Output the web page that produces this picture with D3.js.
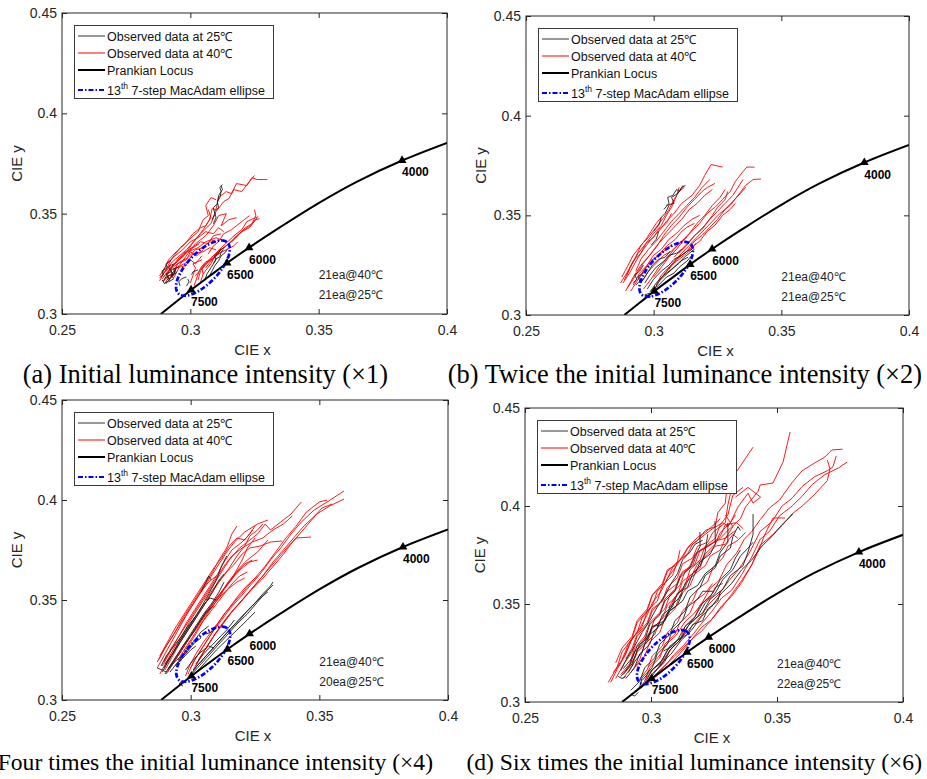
<!DOCTYPE html>
<html><head><meta charset="utf-8">
<script src="https://cdn.jsdelivr.net/npm/d3@7"></script>
<style>body{margin:0;background:#fff}svg{display:block}</style>
</head><body><svg id="fig" width="927" height="779"></svg>
<script>
// Axis ticks shared by all four panels
const xTicks = [0.25, 0.3, 0.35, 0.4];
const xTickLabels = ["0.25", "0.3", "0.35", "0.4"];
const yTicks = [0.3, 0.35, 0.4, 0.45];
const yTickLabels = ["0.3", "0.35", "0.4", "0.45"];
const xDomain = [0.25, 0.4], yDomain = [0.3, 0.45];

// Planckian locus (CIE 1931 x, y)
const locusX = [0.2885, 0.2945, 0.3003, 0.3075, 0.3143, 0.3229, 0.3350, 0.3500, 0.3650, 0.3825, 0.4000];
const locusY = [0.3000, 0.3061, 0.3120, 0.3189, 0.3254, 0.3331, 0.3433, 0.3553, 0.3660, 0.3765, 0.3853];
// CCT marks on the locus
const cctLabels = ["7500", "6500", "6000", "4000"];
const cctX = [0.3003, 0.3143, 0.3229, 0.3825];
const cctY = [0.3120, 0.3254, 0.3331, 0.3765];

// 7-step MacAdam ellipse: centre, semi-axes and tilt
const ellipseCenter = [0.3049, 0.3229];
const ellipseSemiAxes = [0.0160, 0.0066];
const ellipseTiltDeg = 56;

const legendLabels = ["Observed data at 25\u2103", "Observed data at 40\u2103", "Prankian Locus", "13|th| 7-step MacAdam ellipse"];
const captions = [
  "(a) Initial luminance intensity (\u00d71)",
  "(b) Twice the initial luminance intensity (\u00d72)",
  "(c) Four times the initial luminance intensity (\u00d74)",
  "(d) Six times the initial luminance intensity (\u00d76)"
];
const sampleCounts = [
  ["21ea@40\u2103", "21ea@25\u2103"],
  ["21ea@40\u2103", "21ea@25\u2103"],
  ["21ea@40\u2103", "20ea@25\u2103"],
  ["21ea@40\u2103", "22ea@25\u2103"]
];

// Observed chromaticity trajectories, each as x,y,x,y,...
const obs25A = [
 [.309,.345,.31,.348,.3095,.351,.311,.353,.3105,.356,.3115,.358,.312,.361,.3115,.363,.3125,.3645],
 [.3085,.347,.3095,.35,.309,.353,.3105,.355,.311,.359,.3125,.362,.312,.364],
 [.289,.317,.29,.315,.2915,.318,.2905,.32,.2925,.321,.2915,.3235,.2935,.325],
 [.2905,.3155,.292,.317,.291,.319,.293,.3195,.2925,.322,.2945,.323],
 [.288,.318,.2895,.3195,.289,.3215,.291,.323,.2905,.325,.2925,.327],
 [.2915,.316,.2935,.3175,.2925,.3195,.2945,.3205,.294,.3225],
 [.3055,.3165,.3065,.32,.308,.323,.309,.325,.31,.3275,.3115,.3285,.312,.331,.313,.332],
 [.307,.318,.3085,.3215,.3095,.324,.311,.3265,.312,.329,.3135,.3305,.3145,.3325],
 [.309,.325,.31,.327,.3095,.329,.311,.33,.3115,.332,.313,.333],
 [.296,.314,.2955,.316,.2965,.3175,.2985,.3185],
 [.3005,.3195,.301,.321,.303,.322],
 [.2985,.314,.2995,.316,.299,.3175],
 [.2895,.3165,.2905,.3185,.292,.3175,.2935,.3195,.2925,.3215],
 [.2925,.3185,.294,.32,.2935,.3225,.2955,.3235]
];
const obs40A = [
 [.289,.3175,.2935,.3245,.2975,.329,.301,.3355,.305,.342,.3075,.347,.3085,.3525,.31,.352,.311,.358,.314,.361,.316,.36,.318,.365,.322,.364,.324,.368,.326,.367,.33,.367],
 [.2885,.3185,.293,.326,.2985,.332,.304,.34,.308,.345,.31,.351,.313,.356,.315,.3575,.317,.362,.32,.361,.323,.366,.325,.369],
 [.29,.317,.295,.323,.299,.33,.302,.335,.306,.339,.309,.344,.311,.349,.314,.35,.312,.344,.315,.347,.318,.348],
 [.303,.317,.304,.3215,.307,.326,.309,.329,.312,.333,.315,.3365,.317,.339,.32,.342,.322,.346,.3245,.3475,.3265,.3485],
 [.305,.32,.308,.325,.31,.33,.313,.333,.316,.336,.319,.34,.3215,.343,.324,.345,.3255,.349,.325,.352],
 [.306,.323,.309,.328,.312,.332,.315,.335,.318,.339,.321,.342,.3235,.344,.326,.348],
 [.302,.319,.305,.324,.308,.328,.311,.331,.314,.334,.317,.337,.32,.341,.323,.343,.3255,.347,.327,.3475],
 [.304,.316,.305,.32,.3045,.323,.308,.327,.311,.33,.314,.332,.317,.334,.3185,.336],
 [.288,.319,.291,.325,.294,.329,.297,.332,.3,.336,.303,.338,.306,.341,.309,.34,.311,.343,.313,.341],
 [.2895,.316,.292,.322,.296,.326,.299,.328,.302,.332,.305,.333,.308,.337,.31,.336],
 [.289,.32,.2915,.327,.2945,.331,.298,.335,.301,.34,.304,.343,.306,.344,.308,.348,.307,.352],
 [.2905,.315,.2935,.32,.295,.325,.2985,.327,.3,.331,.3025,.329,.305,.332],
 [.29,.321,.293,.328,.296,.333,.2995,.337,.303,.341,.305,.347,.307,.349,.306,.354,.308,.358,.31,.357],
 [.2915,.317,.2945,.323,.298,.324,.3,.327,.302,.325,.3045,.329],
 [.291,.3195,.293,.324,.297,.33,.3005,.333,.304,.336,.307,.335,.309,.339,.312,.34],
 [.3015,.314,.3025,.318,.304,.323,.306,.326,.309,.3275,.311,.33],
 [.3,.3155,.301,.319,.302,.323,.301,.325,.3045,.327],
 [.2935,.318,.296,.324,.299,.326,.301,.33,.305,.331,.3075,.333,.31,.332],
 [.2895,.3185,.2925,.323,.2955,.327,.299,.331,.303,.333,.306,.336,.31,.338,.312,.337],
 [.288,.3165,.29,.321,.294,.325,.2975,.33,.301,.333,.3035,.335],
 [.307,.33,.309,.334,.311,.336,.313,.34,.316,.342,.319,.345,.321,.347,.323,.349]
];

const obs25B = [
 [.304,.353,.306,.356,.3055,.359,.3075,.36,.309,.363,.31,.362,.3115,.365],
 [.305,.355,.308,.356,.307,.359,.3095,.361,.311,.364,.3125,.365],
 [.3,.342,.302,.345,.303,.349,.3045,.351,.306,.355],
 [.2985,.3115,.301,.316,.304,.32,.307,.323,.31,.326,.312,.329,.314,.331,.316,.333],
 [.2975,.313,.3,.318,.303,.322,.306,.325,.308,.328,.311,.33,.313,.332,.315,.333],
 [.2965,.316,.2985,.32,.301,.324,.304,.327,.306,.33,.309,.331,.311,.333],
 [.299,.312,.302,.315,.305,.319,.308,.321,.31,.324,.313,.327,.315,.33],
 [.2955,.317,.2975,.321,.2995,.325,.302,.328,.3045,.329,.3065,.332],
 [.292,.316,.2935,.318,.2925,.32,.2945,.322,.296,.325],
 [.293,.315,.2945,.317,.294,.3195,.296,.321],
 [.3005,.3135,.3025,.3175,.3055,.321,.3085,.3245,.3105,.327,.3135,.329],
 [.299,.309,.2965,.31,.2985,.311],
 [.299,.335,.301,.338,.302,.342]
];
const obs40B = [
 [.288,.316,.291,.322,.2935,.328,.296,.333,.299,.338,.302,.342,.305,.347,.308,.351,.311,.356,.315,.36,.318,.365,.32,.37,.3225,.3755,.327,.3742],
 [.289,.312,.292,.319,.295,.325,.2985,.33,.301,.334,.304,.34,.307,.345,.31,.349,.313,.354,.316,.358,.319,.362,.321,.364,.324,.366],
 [.3,.319,.303,.324,.306,.329,.309,.333,.312,.338,.315,.342,.318,.346,.321,.351,.324,.354,.327,.358,.33,.362,.332,.367,.335,.372,.3365,.3742,.3395,.3742],
 [.302,.317,.305,.322,.308,.327,.311,.331,.314,.335,.317,.339,.32,.343,.323,.347,.326,.351,.33,.355,.333,.36,.336,.365,.339,.368,.342,.3682],
 [.304,.32,.307,.325,.31,.329,.313,.332,.316,.337,.319,.34,.322,.344,.325,.348,.328,.353,.331,.357,.334,.361,.336,.364],
 [.306,.323,.309,.328,.312,.331,.315,.334,.318,.337,.321,.342,.324,.345,.327,.35,.33,.353,.332,.356],
 [.296,.313,.299,.318,.302,.324,.305,.328,.308,.333,.311,.337,.314,.341,.317,.346,.32,.35,.323,.355,.326,.359,.328,.363],
 [.2885,.3175,.2905,.323,.293,.329,.295,.335,.298,.339,.301,.344,.304,.349,.306,.353,.308,.358,.31,.362,.312,.364],
 [.29,.314,.293,.32,.296,.326,.299,.331,.302,.336,.305,.34,.308,.344,.311,.348,.314,.353,.317,.356,.32,.36,.323,.363],
 [.287,.316,.2895,.321,.292,.327,.295,.331,.297,.336,.3,.341,.303,.345,.305,.35,.307,.354,.309,.36,.31,.364],
 [.292,.315,.2945,.321,.2975,.325,.3,.33,.303,.333,.306,.338,.309,.341,.312,.345,.315,.348,.318,.35],
 [.294,.318,.2965,.323,.2995,.327,.3025,.331,.3055,.335,.3085,.338,.311,.342,.313,.344,.316,.346],
 [.308,.329,.311,.333,.314,.337,.317,.341,.32,.345,.323,.35,.325,.354,.328,.358,.329,.362],
 [.2895,.32,.2915,.326,.294,.331,.297,.336,.3,.339,.302,.343,.305,.346,.307,.351],
 [.291,.312,.2935,.317,.296,.322,.2985,.327,.301,.329,.304,.332,.307,.335],
 [.301,.315,.303,.32,.306,.324,.309,.327,.312,.33,.315,.333,.3165,.336],
 [.293,.322,.295,.328,.298,.333,.301,.337,.304,.342,.307,.347,.31,.351,.313,.355,.316,.359,.319,.364,.322,.368],
 [.295,.316,.298,.322,.301,.326,.304,.33,.307,.332,.31,.336,.313,.339],
 [.2875,.319,.29,.325,.292,.33,.2945,.334,.297,.338,.299,.342,.301,.346,.303,.349],
 [.31,.331,.313,.335,.316,.34,.319,.343,.322,.348,.325,.352,.328,.356,.331,.36,.333,.364,.335,.368]
];

const obs25C = [
 [.289,.314,.292,.321,.295,.328,.298,.334,.301,.34,.304,.346,.307,.353,.31,.36,.312,.367,.314,.372],
 [.29,.313,.293,.319,.296,.325,.299,.331,.302,.337,.305,.343,.308,.348,.311,.354,.313,.359],
 [.2895,.316,.2925,.322,.2955,.329,.2985,.335,.3015,.341,.3045,.347,.3075,.351,.31,.35],
 [.291,.315,.294,.321,.297,.327,.3,.332,.303,.338,.306,.344,.309,.347],
 [.2885,.317,.2905,.322,.2935,.327,.2965,.332,.299,.337,.302,.342],
 [.292,.314,.295,.319,.298,.324,.301,.329,.304,.334,.307,.337],
 [.29,.318,.2935,.324,.2965,.33,.2995,.336,.3025,.342,.3055,.348,.3085,.354,.311,.36,.313,.363],
 [.2915,.316,.2945,.32,.298,.323,.301,.328,.304,.331],
 [.294,.317,.297,.321,.3,.325,.302,.327],
 [.304,.354,.306,.359,.307,.362,.308,.36],
 [.2995,.312,.3025,.317,.306,.322,.3095,.327,.313,.332,.3165,.337,.32,.342,.324,.347,.328,.353,.331,.357,.332,.359],
 [.3005,.313,.304,.318,.3075,.323,.311,.328,.3145,.333,.318,.338,.322,.343,.326,.349,.33,.355,.332,.3575],
 [.301,.315,.3045,.32,.308,.325,.3115,.33,.315,.335,.319,.34,.323,.346,.327,.351,.33,.354],
 [.3,.311,.303,.315,.3065,.32,.31,.325,.314,.33,.318,.335,.322,.34,.325,.344],
 [.302,.318,.305,.323,.308,.327,.311,.331,.314,.335,.317,.34],
 [.298,.315,.301,.32,.304,.324,.307,.327,.309,.326],
 [.297,.307,.2955,.308,.2965,.3095],
 [.287,.316,.289,.315,.2905,.314],
 [.306,.333,.308,.334,.31,.336]
];
const obs40C = [
 [.287,.316,.29,.323,.293,.33,.296,.337,.299,.344,.302,.35,.305,.356,.308,.362,.311,.368,.314,.374,.317,.379,.321,.384,.326,.388,.33,.39],
 [.288,.313,.291,.32,.294,.327,.297,.333,.3,.34,.303,.346,.306,.352,.309,.358,.312,.364,.315,.37,.319,.376,.323,.38,.326,.383,.329,.388,.331,.385,.335,.389,.339,.393,.343,.399],
 [.289,.317,.292,.324,.295,.331,.298,.337,.301,.343,.304,.349,.307,.355,.31,.361,.313,.367,.316,.372,.32,.376,.324,.379,.328,.381,.332,.385,.336,.388,.3395,.392],
 [.29,.315,.293,.322,.296,.329,.299,.335,.302,.341,.305,.347,.308,.353,.311,.359,.314,.364,.317,.368,.32,.373,.323,.376,.327,.377,.331,.379,.3355,.3795],
 [.2875,.32,.2905,.327,.2935,.333,.2965,.34,.2995,.346,.3025,.352,.3055,.358,.3085,.364,.311,.37,.314,.376,.316,.383,.318,.387],
 [.291,.314,.294,.32,.297,.326,.3,.332,.303,.338,.306,.344,.309,.349,.312,.354,.315,.359,.318,.364,.321,.368,.324,.37],
 [.2895,.319,.2925,.326,.2955,.332,.2985,.339,.3015,.345,.3045,.351,.3075,.357,.3105,.363,.313,.369,.316,.375,.32,.379,.323,.383,.325,.387],
 [.292,.316,.295,.322,.298,.328,.301,.334,.304,.34,.307,.345,.31,.351,.313,.356,.316,.361,.319,.366,.322,.37,.326,.374,.33,.38],
 [.288,.322,.291,.329,.294,.336,.297,.342,.3,.348,.303,.354,.306,.36,.309,.366,.312,.371,.315,.377,.318,.381,.321,.38,.324,.385],
 [.293,.318,.296,.324,.299,.33,.302,.336,.305,.342,.308,.347,.311,.352,.314,.357,.317,.362,.32,.366,.323,.369,.326,.37],
 [.2905,.313,.2935,.319,.2965,.325,.2995,.331,.3025,.336,.3055,.342,.3085,.347,.3115,.352,.314,.358,.317,.363,.32,.37,.322,.376,.325,.381],
 [.295,.32,.298,.326,.301,.332,.304,.338,.307,.343,.31,.348,.313,.353,.316,.358,.319,.362,.322,.364],
 [.299,.313,.301,.319,.304,.325,.307,.331,.31,.337,.313,.343,.317,.349,.321,.355,.325,.361,.329,.367,.333,.374,.337,.381,.341,.387,.345,.394,.35,.399,.353,.4],
 [.3,.316,.3025,.322,.3055,.328,.3085,.334,.312,.34,.3155,.346,.319,.351,.323,.357,.327,.363,.331,.37,.335,.376,.339,.383,.343,.389,.348,.395,.353,.399,.3596,.4045],
 [.301,.315,.3035,.321,.3065,.327,.3095,.333,.313,.339,.3165,.345,.32,.35,.324,.356,.328,.362,.332,.369,.336,.375,.34,.381,.344,.387,.349,.393,.354,.397,.3596,.4005],
 [.302,.317,.305,.324,.308,.33,.311,.336,.3145,.342,.318,.347,.322,.353,.326,.359,.33,.365,.334,.371,.338,.377,.341,.381,.3468,.3815],
 [.303,.32,.306,.326,.309,.332,.3125,.338,.316,.344,.3195,.349,.3235,.355,.3275,.36,.3315,.366,.3355,.372,.339,.378,.343,.384,.347,.39,.351,.396,.355,.398],
 [.298,.312,.2995,.317,.302,.323,.305,.329,.3085,.335,.312,.341,.3155,.347,.319,.353,.3225,.358,.326,.362],
 [.306,.35,.309,.356,.312,.361,.315,.366,.318,.372,.321,.377,.323,.382,.326,.385,.328,.388],
 [.296,.32,.299,.327,.302,.333,.305,.34,.308,.346,.311,.351,.314,.355,.318,.359,.321,.361],
 [.287,.319,.2895,.325,.2925,.331,.2955,.337,.2985,.343,.3015,.349,.304,.354,.307,.359,.31,.362]
];

const obs25D = [
 [.288,.313,.2915,.3185,.2935,.3255,.2975,.3315,.2995,.3395,.3035,.3445,.3055,.3515,.3095,.3565,.3115,.3635,.3155,.3685,.3175,.3745,.3195,.3795,.3194,.3867],
 [.29,.312,.2935,.3175,.2955,.3245,.2995,.3295,.3015,.3365,.3055,.3415,.3075,.3485,.3115,.3535,.3135,.3605,.3175,.3655,.3195,.3715,.3235,.3755,.3255,.3805,.3254,.3923],
 [.292,.306,.2955,.3105,.2975,.3175,.3015,.3225,.3035,.3295,.3075,.3345,.3095,.3415,.3135,.3465,.3155,.3535,.3195,.3585,.3215,.3645,.3255,.3685,.3275,.3745,.3315,.3785,.3325,.3845,.3345,.3895,.3355,.3875],
 [.294,.305,.2975,.3095,.3005,.3165,.3045,.3215,.3075,.3285,.3125,.3335,.3155,.3405,.3205,.3455,.3235,.3525,.3285,.3575,.3315,.3645,.3365,.3695,.3385,.3765,.3405,.3855,.3405,.3959],
 [.296,.307,.3,.3125,.304,.3195,.308,.3245,.312,.3315,.316,.3365,.32,.3435,.324,.3485,.328,.3555,.332,.3605,.336,.3675,.34,.3725,.344,.3795,.348,.3845,.352,.3905,.3563,.3959],
 [.2975,.309,.3005,.3145,.3045,.3195,.3075,.3265,.3115,.3315,.3145,.3385,.3185,.3435,.3215,.3505,.3255,.3555,.3285,.3625,.3325,.3675,.3355,.3745,.3385,.3785,.3405,.3815],
 [.288,.316,.2905,.3225,.2935,.3285,.2965,.3355,.2995,.3415,.3025,.3485,.3055,.3545,.3085,.3615,.3105,.3655,.3125,.3725,.3155,.3765,.3175,.3805,.3205,.3825],
 [.289,.314,.2925,.3195,.2945,.3265,.2985,.3315,.3005,.3385,.3055,.3415,.3075,.3465,.3125,.3515,.3145,.3565,.3185,.3595,.3215,.3655,.3255,.3695,.3275,.3765,.3305,.3815,.3305,.3915],
 [.293,.304,.2955,.3075,.2965,.3125,.3005,.3175,.3025,.3245,.3065,.3295,.3085,.3365,.3125,.3415,.3145,.3485,.3185,.3525,.3205,.3565,.3245,.3565],
 [.2965,.311,.2995,.3155,.3035,.3195,.3065,.3265,.3105,.3315,.3135,.3385,.3175,.3435,.3205,.3505,.3245,.3555,.3275,.3625,.3315,.3675,.3335,.3735,.3355,.3775],
 [.289,.317,.2925,.3225,.2945,.3285,.2985,.3325,.3005,.3385,.3045,.3395,.3065,.3455,.3105,.3495,.3125,.3555],
 [.287,.313,.2885,.312,.29,.313],
 [.292,.304,.2935,.303,.295,.305],
 [.305,.326,.3085,.3285,.3105,.3315,.3145,.3345,.3165,.3395,.3205,.3415,.3225,.3475,.3265,.3515,.3275,.3565],
 [.291,.315,.2935,.3205,.2965,.3255,.2985,.3335,.3025,.3375,.3045,.3445,.3085,.3485,.3105,.3555,.3145,.3585,.3165,.3655,.3195,.3695,.3215,.3765,.3225,.3855]
];
const obs40D = [
 [.284,.31,.2865,.3165,.2895,.3235,.292,.331,.2955,.3375,.2985,.3445,.3005,.3505,.304,.3565,.3065,.363,.3095,.3685,.3125,.3745,.315,.3795,.3185,.384,.3215,.3865,.325,.3905,.3275,.3935],
 [.285,.315,.2885,.3215,.291,.3295,.2945,.3355,.2965,.343,.3005,.349,.3025,.3565,.306,.3615,.3085,.3685,.3125,.3735,.3145,.3785,.3185,.3825,.3215,.3875,.3255,.3895,.3265,.3965,.3295,.4015,.33,.408],
 [.286,.312,.289,.319,.2925,.3255,.2945,.3335,.2985,.3395,.3005,.3465,.3045,.3515,.3065,.3585,.3105,.3635,.3125,.3705,.3165,.3735,.3185,.3795,.3225,.3815,.3245,.3865,.3295,.3915,.3305,.4005,.3333,.4163,.3405,.43],
 [.288,.314,.2915,.3195,.2935,.3275,.2975,.3335,.2995,.3405,.3035,.3455,.3055,.3525,.3095,.3575,.3115,.3645,.3155,.3695,.3175,.3755,.3215,.3785,.324,.3805,.3275,.3845,.3295,.3905,.334,.3915,.3365,.3885],
 [.29,.316,.2935,.3225,.2955,.3295,.2995,.3355,.3015,.3425,.3055,.3475,.3075,.3545,.3115,.3595,.3135,.3665,.3175,.3705,.3195,.3775,.3235,.3805,.3275,.3835,.3305,.3875,.3355,.3935,.3375,.3995,.3425,.4075,.3433,.4107,.3484,.4117,.3524,.4224,.3552,.4378],
 [.299,.318,.303,.323,.3065,.33,.31,.334,.3135,.341,.317,.345,.32,.35,.3235,.358,.327,.362,.33,.37,.334,.376,.337,.383,.34,.387,.3433,.393,.347,.399,.351,.403,.356,.412,.36,.418,.365,.422,.369,.425,.3718,.4286,.376,.429],
 [.2975,.311,.301,.317,.304,.32,.308,.327,.311,.331,.315,.337,.32,.344,.323,.35,.327,.355,.331,.362,.335,.368,.339,.376,.3433,.387,.348,.392,.352,.4,.356,.404,.36,.41,.365,.415,.37,.418,.3722,.42,.3735,.4255],
 [.2985,.309,.302,.314,.306,.319,.309,.324,.313,.329,.317,.335,.32,.34,.324,.346,.328,.353,.332,.357,.336,.365,.34,.374,.3433,.383,.347,.387,.351,.395,.356,.4,.36,.405,.364,.411,.369,.416,.3745,.4195,.3778,.4224],
 [.3,.311,.304,.315,.308,.32,.311,.324,.315,.33,.32,.338,.324,.342,.328,.349,.332,.354,.336,.361,.34,.37,.3433,.38,.348,.385,.352,.39,.356,.396,.36,.4,.365,.406,.37,.413,.371,.419,.37,.4235],
 [.301,.313,.305,.318,.309,.323,.313,.328,.317,.333,.32,.336,.324,.342,.328,.348,.332,.355,.336,.362,.34,.37,.3433,.379,.345,.385,.3484,.3939,.3532,.3939],
 [.287,.318,.29,.3245,.2925,.3325,.2965,.3385,.2985,.3465,.3025,.3515,.3045,.3595,.3085,.3645,.3105,.3715,.3145,.3755,.3165,.3805,.3215,.3855,.3245,.3885,.3285,.3915,.3305,.3895,.3335,.3955],
 [.289,.312,.2925,.3185,.2945,.3255,.2985,.3305,.3005,.3375,.3045,.3425,.3065,.3495,.3105,.3545,.3125,.3615,.3165,.3655,.3185,.3705,.3225,.3755,.3255,.3795,.3295,.3805,.3325,.3855,.3345,.3835],
 [.292,.315,.2955,.3215,.2975,.3295,.3015,.3345,.3035,.3415,.3075,.3465,.3095,.3535,.3135,.3585,.3155,.3645,.3195,.3685,.3215,.3755,.3255,.3805,.3275,.3865,.3315,.3915,.3345,.3995,.3385,.4065,.3405,.4015,.3435,.4045,.3385,.4095,.3335,.4045],
 [.294,.318,.2975,.3235,.2995,.3305,.3035,.3355,.3055,.3425,.3095,.3475,.3115,.3545,.3155,.3595,.3175,.3655,.3215,.3695,.3235,.3745,.3275,.3775,.3295,.3835,.3325,.3895,.3295,.3955],
 [.283,.31,.2865,.3175,.2885,.3255,.2925,.3325,.2945,.3405,.2985,.3465,.3005,.3545,.3045,.3595,.3065,.3665,.3105,.3715,.3115,.3775],
 [.295,.311,.2985,.3165,.3005,.3235,.3045,.3285,.3065,.3355,.3105,.3405,.3125,.3465,.3165,.3515,.3185,.3575,.3225,.3615,.3245,.3685,.3285,.3735,.3305,.3795,.3345,.3825,.3375,.3865],
 [.294,.305,.2975,.3105,.2995,.3175,.3035,.3225,.3055,.3295,.3095,.3345,.3115,.3405,.3155,.3455,.3175,.3515,.3215,.3555,.3245,.3605],
 [.286,.32,.2885,.3275,.2925,.3335,.2945,.3415,.2985,.3475,.3005,.3545,.3045,.3605,.3065,.3675,.3095,.3695],
 [.307,.348,.3095,.3535,.3135,.3595,.3155,.3675,.3195,.3725,.3215,.3795,.3255,.3835,.3275,.3905,.3305,.3955,.3325,.4055,.3365,.4095],
 [.302,.316,.3055,.3205,.3075,.3265,.3115,.3315,.3135,.3385,.3175,.3435,.3195,.3495,.3235,.3535,.3255,.3585,.3285,.3605],
 [.29,.322,.2925,.3275,.2945,.3345,.2985,.3405,.3005,.3475,.3045,.3515,.3065,.3565,.3105,.3605,.3125,.3665,.3165,.3695,.3185,.3765,.3225,.3795,.3265,.3825,.3295,.3835,.3335,.3875]
];

// Panel layout (plot area in px), caption anchors and caption sizes
const panels = [
  { box: [62, 447, 13, 314], obs25: obs25A, obs40: obs40A, counts: sampleCounts[0], caption: captions[0], cap: [388, 383, 26.4] },
  { box: [526, 909, 16, 315], obs25: obs25B, obs40: obs40B, counts: sampleCounts[1], caption: captions[1], cap: [922, 383, 26.4] },
  { box: [62, 448, 400, 700], obs25: obs25C, obs40: obs40C, counts: sampleCounts[2], caption: captions[2], cap: [433, 770, 23.6] },
  { box: [525, 903, 408, 702], obs25: obs25D, obs40: obs40D, counts: sampleCounts[3], caption: captions[3], cap: [922, 770, 23.6] }
];

const SANS = "'Liberation Sans', Arial, Helvetica, sans-serif";
const SERIF = "'Liberation Serif', 'Times New Roman', serif";
const svg = d3.select("#fig");
const toPairs = arr => d3.range(arr.length / 2).map(i => [arr[2 * i], arr[2 * i + 1]]);

panels.forEach((p, pi) => {
  const [l, r, t, b] = p.box;
  const x = d3.scaleLinear().domain(xDomain).range([l, r]);
  const y = d3.scaleLinear().domain(yDomain).range([b, t]);
  const g = svg.append("g");
  const line = d3.line().x(d => x(d[0])).y(d => y(d[1]));

  const clipId = "clip" + pi;
  svg.append("clipPath").attr("id", clipId).append("rect")
    .attr("x", l).attr("y", t).attr("width", r - l).attr("height", b - t);
  const plot = g.append("g").attr("clip-path", `url(#${clipId})`);

  // observed trajectories: 40 C underneath, 25 C on top
  plot.append("g").selectAll("path").data(p.obs40).join("path")
    .attr("d", d => line(toPairs(d))).attr("fill", "none")
    .attr("stroke", "#ff0000").attr("stroke-width", 0.9).attr("stroke-linejoin", "round");
  plot.append("g").selectAll("path").data(p.obs25).join("path")
    .attr("d", d => line(toPairs(d))).attr("fill", "none")
    .attr("stroke", "#1e1e1e").attr("stroke-width", 0.9).attr("stroke-linejoin", "round");

  // Planckian locus
  const smooth = d3.line().x(d => x(d[0])).y(d => y(d[1])).curve(d3.curveCatmullRom);
  plot.append("path").datum(d3.zip(locusX, locusY))
    .attr("d", smooth).attr("fill", "none")
    .attr("stroke", "#000").attr("stroke-width", 2);

  // MacAdam ellipse
  const th = ellipseTiltDeg * Math.PI / 180;
  const ell = d3.range(0, 361, 3).map(a => {
    const u = a * Math.PI / 180;
    const ex = ellipseSemiAxes[0] * Math.cos(u), ey = ellipseSemiAxes[1] * Math.sin(u);
    return [ellipseCenter[0] + ex * Math.cos(th) - ey * Math.sin(th),
            ellipseCenter[1] + ex * Math.sin(th) + ey * Math.cos(th)];
  });
  plot.append("path").datum(ell).attr("d", line).attr("fill", "none")
    .attr("stroke", "#0000ff").attr("stroke-width", 2.7)
    .attr("stroke-dasharray", "5,2,1.5,2");

  // CCT markers and labels
  const tri = d3.symbol().type(d3.symbolTriangle).size(34);
  cctLabels.forEach((lab, i) => {
    g.append("path").attr("d", tri())
      .attr("transform", `translate(${x(cctX[i])},${y(cctY[i])})`).attr("fill", "#000");
    g.append("text").attr("x", x(cctX[i])).attr("y", y(cctY[i]) + 16)
      .attr("font-family", SANS).attr("font-size", 12).attr("font-weight", "bold").text(lab);
  });

  // sample counts
  p.counts.forEach((txt, i) => {
    g.append("text").attr("x", x(0.35)).attr("y", y(i === 0 ? 0.3195 : 0.3095) + 4.5)
      .attr("font-family", SANS).attr("font-size", 12).attr("fill", "#222").text(txt);
  });

  // axes with inward ticks on all sides
  const axStyle = sel => {
    sel.select(".domain").remove();
    sel.selectAll(".tick line").attr("stroke", "#262626");
    sel.selectAll(".tick text").attr("font-family", SANS).attr("font-size", 14).attr("fill", "#262626");
  };
  g.append("g").attr("transform", `translate(0,${b})`)
    .call(d3.axisBottom(x).tickValues(xTicks).tickFormat((d, i) => xTickLabels[i]).tickSize(-5).tickPadding(11)).call(axStyle);
  g.append("g").attr("transform", `translate(0,${t})`)
    .call(d3.axisTop(x).tickValues(xTicks).tickFormat("").tickSize(-5)).call(axStyle);
  g.append("g").attr("transform", `translate(${l},0)`)
    .call(d3.axisLeft(y).tickValues(yTicks).tickFormat((d, i) => yTickLabels[i]).tickSize(-5).tickPadding(5)).call(axStyle);
  g.append("g").attr("transform", `translate(${r},0)`)
    .call(d3.axisRight(y).tickValues(yTicks).tickFormat("").tickSize(-5)).call(axStyle);
  g.append("rect").attr("x", l).attr("y", t).attr("width", r - l).attr("height", b - t)
    .attr("fill", "none").attr("stroke", "#262626").attr("stroke-width", 1);

  // axis titles
  g.append("text").attr("x", (l + r) / 2 - 2).attr("y", b + 41).attr("text-anchor", "middle")
    .attr("font-family", SANS).attr("font-size", 15).attr("fill", "#262626").text("CIE x");
  g.append("text").attr("transform", `translate(${l - 40},${(t + b) / 2}) rotate(-90)`)
    .attr("text-anchor", "middle").attr("font-family", SANS).attr("font-size", 15)
    .attr("fill", "#262626").text("CIE y");

  // legend
  const lg = g.append("g").attr("transform", `translate(${l + 12},${t + 12})`);
  lg.append("rect").attr("x", 0.5).attr("y", 0.5).attr("width", 199).attr("height", 73)
    .attr("fill", "#fff").attr("stroke", "#3a3a3a").attr("stroke-width", 1);
  const rowsY = [11, 28, 45, 65];
  const styles = [
    { c: "#333", w: 1, dash: null },
    { c: "#ff0000", w: 1, dash: null },
    { c: "#000", w: 2, dash: null },
    { c: "#0000ff", w: 2, dash: "5,2,1.5,2" }
  ];
  legendLabels.forEach((lab, i) => {
    lg.append("line").attr("x1", 4).attr("x2", 31).attr("y1", rowsY[i]).attr("y2", rowsY[i])
      .attr("stroke", styles[i].c).attr("stroke-width", styles[i].w)
      .attr("stroke-dasharray", styles[i].dash);
    const tx = lg.append("text").attr("x", 33).attr("y", rowsY[i] + 4.5)
      .attr("font-family", SANS).attr("font-size", 12.5).attr("fill", "#111");
    const parts = lab.split("|");
    if (parts.length === 3) {
      tx.append("tspan").text(parts[0]);
      tx.append("tspan").attr("dy", -6).attr("font-size", 8.5).text(parts[1]);
      tx.append("tspan").attr("dy", 6).text(parts[2]);
    } else {
      tx.text(lab);
    }
  });

  // caption
  svg.append("text").attr("x", p.cap[0]).attr("y", p.cap[1]).attr("text-anchor", "end")
    .attr("font-family", SERIF).attr("font-size", p.cap[2]).attr("fill", "#000").text(p.caption);
});
</script>
</body></html>
